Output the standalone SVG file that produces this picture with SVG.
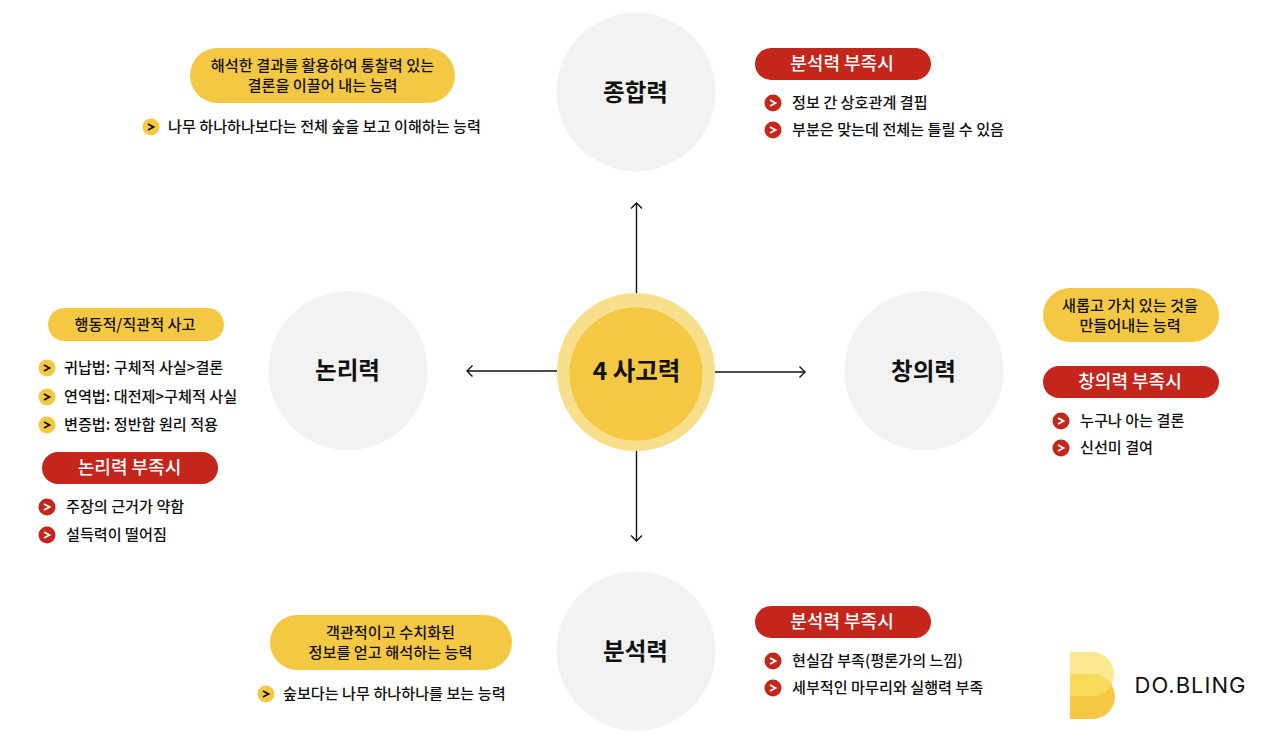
<svg xmlns="http://www.w3.org/2000/svg" width="1280" height="741" viewBox="0 0 1280 741">
<style>
text{font-family:"Noto Sans CJK KR","Noto Sans",sans-serif;fill:#111;text-anchor:middle}
.big{font-size:23.500px;font-weight:700}
.pill{font-size:15.200px;font-weight:500}
.red{font-size:18px;font-weight:500;fill:#fff}
.it{font-size:15.150px;font-weight:500;text-anchor:start}
.n{fill:#f2f2f2}
.y{fill:#f4c842}
.r{fill:#c4261c}
.conn{stroke:#111;stroke-width:1.4;fill:none}
</style>
<defs>
<marker id="a" markerUnits="userSpaceOnUse" markerWidth="14" markerHeight="14" refX="11" refY="7" orient="auto"><path d="M5.500 1.500L11 7L5.500 12.500" fill="none" stroke="#111" stroke-width="1.400"/></marker>
<g id="by"><circle r="8.500" class="y"/><path d="M-3 -3L2.500 0L-3 3" fill="none" stroke="#111" stroke-width="1.800"/></g>
<g id="br"><circle r="8.500" class="r"/><path d="M-3 -3L2.500 0L-3 3" fill="none" stroke="#fff" stroke-width="1.800"/></g>
</defs>
<rect width="1280" height="741" fill="#fff"/>
<g id="connectors">
<path class="conn" d="M636.500 293V203" marker-end="url(#a)"/>
<path class="conn" d="M636.500 451V541" marker-end="url(#a)"/>
<path class="conn" d="M557 371H467" marker-end="url(#a)"/>
<path class="conn" d="M715 372H805" marker-end="url(#a)"/>
</g>
<g id="center">
<circle cx="636" cy="372" r="79" fill="#f8df8b"/>
<circle cx="636" cy="374" r="66.500" class="y"/>
<text x="636.500" y="380" style="font-size:24.500px;font-weight:700">4 사고력</text>
</g>
<g id="node-synthesis">
<circle cx="636" cy="92" r="79.500" class="n"/>
<text class="big" x="635.500" y="100.500">종합력</text>
<rect x="190" y="48" width="265" height="55" rx="27.500" class="y"/>
<text class="pill" x="322.500" y="71">해석한 결과를 활용하여 통찰력 있는</text>
<text class="pill" x="322.500" y="91">결론을 이끌어 내는 능력</text>
<use href="#by" x="151" y="127"/>
<text class="it" x="168" y="132">나무 하나하나보다는 전체 숲을 보고 이해하는 능력</text>
<rect x="755" y="48" width="176" height="32" rx="16" class="r"/>
<text class="red" x="842" y="70">분석력 부족시</text>
<use href="#br" x="773" y="103"/>
<text class="it" x="792" y="108">정보 간 상호관계 결핍</text>
<use href="#br" x="773" y="130"/>
<text class="it" x="792" y="135">부분은 맞는데 전체는 틀릴 수 있음</text>
</g>
<g id="node-logic">
<circle cx="348" cy="370.500" r="79.500" class="n"/>
<text class="big" x="347.500" y="378.500">논리력</text>
<rect x="48" y="308" width="176" height="33" rx="16.500" class="y"/>
<text class="pill" x="135" y="330">행동적/직관적 사고</text>
<use href="#by" x="47" y="368"/>
<text class="it" x="64" y="373">귀납법: 구체적 사실&gt;결론</text>
<use href="#by" x="47" y="397"/>
<text class="it" x="64" y="402">연역법: 대전제&gt;구체적 사실</text>
<use href="#by" x="47" y="425"/>
<text class="it" x="64" y="430">변증법: 정반합 원리 적용</text>
<rect x="42" y="452" width="176" height="32" rx="16" class="r"/>
<text class="red" x="129.500" y="474">논리력 부족시</text>
<use href="#br" x="47" y="507"/>
<text class="it" x="66" y="512">주장의 근거가 약함</text>
<use href="#br" x="47" y="535"/>
<text class="it" x="66" y="540">설득력이 떨어짐</text>
</g>
<g id="node-creativity">
<circle cx="924" cy="370.500" r="79.500" class="n"/>
<text class="big" x="923.500" y="379.500">창의력</text>
<rect x="1043" y="288" width="176" height="54" rx="27" class="y"/>
<text class="pill" x="1130" y="311">새롭고 가치 있는 것을</text>
<text class="pill" x="1130" y="331">만들어내는 능력</text>
<rect x="1043" y="366" width="176" height="32" rx="16" class="r"/>
<text class="red" x="1130" y="388">창의력 부족시</text>
<use href="#br" x="1061" y="421"/>
<text class="it" x="1080" y="426">누구나 아는 결론</text>
<use href="#br" x="1061" y="448"/>
<text class="it" x="1080" y="453">신선미 결여</text>
</g>
<g id="node-analysis">
<circle cx="636" cy="651" r="79.500" class="n"/>
<text class="big" x="635.500" y="659.500">분석력</text>
<rect x="270" y="615" width="242" height="55" rx="27.500" class="y"/>
<text class="pill" x="390.500" y="638">객관적이고 수치화된</text>
<text class="pill" x="390.500" y="658">정보를 얻고 해석하는 능력</text>
<use href="#by" x="266" y="694"/>
<text class="it" x="283" y="699">숲보다는 나무 하나하나를 보는 능력</text>
<rect x="755" y="606" width="176" height="32" rx="16" class="r"/>
<text class="red" x="842" y="628">분석력 부족시</text>
<use href="#br" x="773" y="661"/>
<text class="it" x="792" y="666">현실감 부족(평론가의 느낌)</text>
<use href="#br" x="773" y="688"/>
<text class="it" x="792" y="693">세부적인 마무리와 실행력 부족</text>
</g>
<g id="logo">
<path d="M1070 652H1092A22 22 0 0 1 1092 696H1070Z" fill="#fde88f"/>
<path d="M1070 674H1092.500A22.500 22.500 0 0 1 1092.500 719H1070Z" fill="#f4c842"/>
<path d="M1070 674H1092.500C1100 674 1107 678 1111.500 685C1107 692 1100 696 1092 696H1070Z" fill="#f8da5c"/>
<text x="1190.500" y="692.500" style="font-family:'Inter','Liberation Sans',sans-serif;font-size:22px;font-weight:400;letter-spacing:1px">DO.BLING</text>
</g>
</svg>
